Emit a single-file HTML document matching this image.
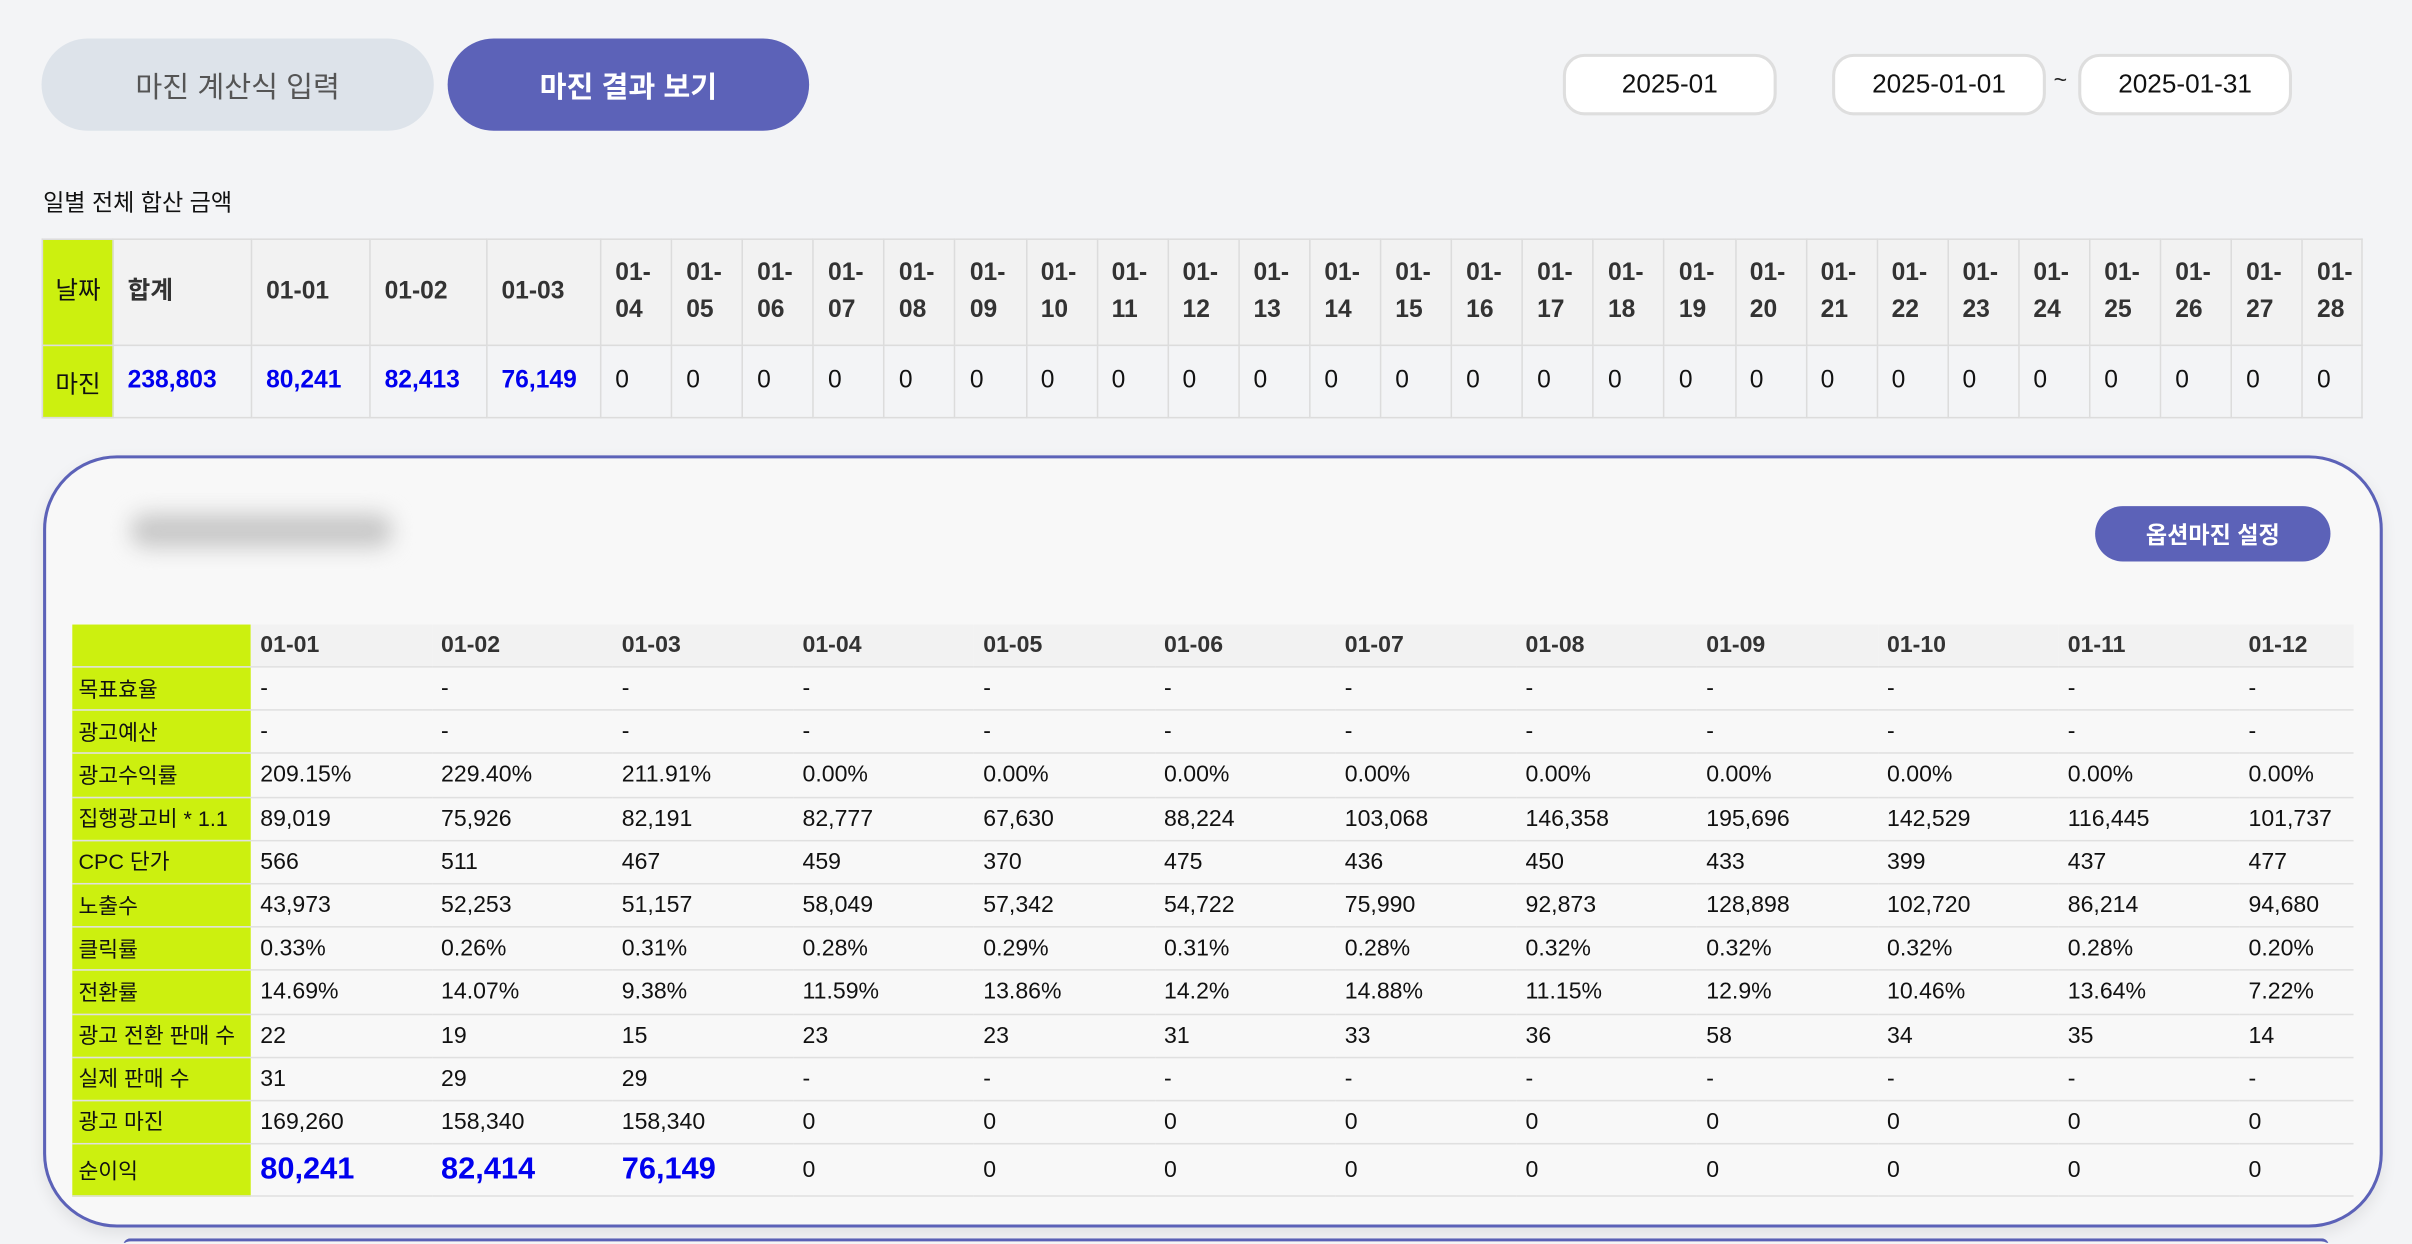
<!DOCTYPE html>
<html><head><meta charset="utf-8">
<style>
html,body{margin:0;padding:0;width:2412px;height:1244px;overflow:hidden;background:#f3f4f6}
#root{position:absolute;left:0;top:0;width:1568px;height:808px;overflow:hidden;transform:scale(1.538265);transform-origin:0 0;font-family:"Liberation Sans","Noto Sans CJK KR",sans-serif;color:#222}
.abs{position:absolute}
.tab{position:absolute;display:flex;align-items:center;justify-content:center;border-radius:30px;font-size:19px}
.date{position:absolute;top:35px;height:36px;width:135px;background:#fff;border:2px solid #dedede;border-radius:14px;display:flex;align-items:center;justify-content:center;font-size:17px;color:#111}
table{border-collapse:collapse;table-layout:fixed;position:absolute}
#sum td{border:1px solid #dcdcdc;font-size:16px;padding:0 0 0 9px;text-align:left}
#sum tr.h td{background:#f2f2f2;font-weight:bold;color:#333;height:68px;line-height:24px}
#sum tr.d td{background:#f3f4f6;height:46px;color:#111}
#sum td.lime{background:#ccf00f!important;padding-left:8px;color:#111!important;font-weight:normal!important}
#sum td.blue{color:#0000ee!important;font-weight:bold}
#card{position:absolute;left:28px;top:296px;width:1517px;height:498px;border:2px solid #5c62b8;border-radius:48px;background:#f8f8f8;box-shadow:0 4px 10px rgba(0,0,0,0.08)}
#det td{font-size:15px;padding:0 0 0 6px;border-bottom:1px solid #e0e0e0;height:27.2px;color:#111}
#det td.lbl{background:#ccf00f;padding-left:4px;font-size:14px}
#det tr.h td{background:#f2f2f2;font-weight:bold;color:#333;height:27px}
#det tr.h td.lbl{background:#ccf00f}
#det tr.last td{height:33px}
#det td.big{color:#0000ee;font-weight:bold;font-size:20px}
</style></head><body>
<div id="root">
<div class="tab" style="left:27px;top:25px;width:255px;height:60px;background:#dde3ea;color:#555">마진 계산식 입력</div>
<div class="tab" style="left:291px;top:25px;width:235px;height:60px;background:#5c62b8;color:#fff;font-weight:bold">마진 결과 보기</div>
<div class="date" style="left:1016px">2025-01</div>
<div class="date" style="left:1191px">2025-01-01</div>
<div class="abs" style="left:1335px;top:44px;font-size:15px">~</div>
<div class="date" style="left:1351px">2025-01-31</div>
<div class="abs" style="left:28px;top:121px;font-size:15px;color:#111">일별 전체 합산 금액</div>

<table id="sum" style="left:27px;top:155px;width:1508px">
<colgroup id="sumcols"></colgroup>
<tr class="h" id="sumh"></tr>
<tr class="d" id="sumd"></tr>
</table>

<div class="abs" style="left:80px;top:805px;width:1434px;height:3px;border-top:2px solid #5c62b8;border-radius:10px 10px 0 0;background:#f8f8f8"></div>
<div id="card">
<div class="abs" style="left:55px;top:36px;width:170px;height:22px;background:#c8c8c8;filter:blur(7px);border-radius:10px"></div>
<div class="abs" style="left:1332px;top:31px;width:153px;height:36px;border-radius:18px;background:#5c62b8;color:#fff;font-weight:bold;font-size:15px;display:flex;align-items:center;justify-content:center">옵션마진 설정</div>
</div>
<table id="det" style="left:47px;top:406px;width:1483px">
<colgroup id="detcols"></colgroup>
</table>
</div>
<script>
const sumDates=["01-01","01-02","01-03","01-04","01-05","01-06","01-07","01-08","01-09","01-10","01-11","01-12","01-13","01-14","01-15","01-16","01-17","01-18","01-19","01-20","01-21","01-22","01-23","01-24","01-25","01-26","01-27","01-28"];
const sumValues=["80,241","82,413","76,149","0","0","0","0","0","0","0","0","0","0","0","0","0","0","0","0","0","0","0","0","0","0","0","0","0"];
const sumTotal="238,803";
const detDates=["01-01","01-02","01-03","01-04","01-05","01-06","01-07","01-08","01-09","01-10","01-11","01-12"];
const rowLabels=["목표효율","광고예산","광고수익률","집행광고비 * 1.1","CPC 단가","노출수","클릭률","전환률","광고 전환 판매 수","실제 판매 수","광고 마진","순이익"];
const rowTarget=["-","-","-","-","-","-","-","-","-","-","-","-"];
const rowBudget=["-","-","-","-","-","-","-","-","-","-","-","-"];
const rowRoas=["209.15%","229.40%","211.91%","0.00%","0.00%","0.00%","0.00%","0.00%","0.00%","0.00%","0.00%","0.00%"];
const rowSpend=["89,019","75,926","82,191","82,777","67,630","88,224","103,068","146,358","195,696","142,529","116,445","101,737"];
const rowCpc=["566","511","467","459","370","475","436","450","433","399","437","477"];
const rowImpr=["43,973","52,253","51,157","58,049","57,342","54,722","75,990","92,873","128,898","102,720","86,214","94,680"];
const rowCtr=["0.33%","0.26%","0.31%","0.28%","0.29%","0.31%","0.28%","0.32%","0.32%","0.32%","0.28%","0.20%"];
const rowCvr=["14.69%","14.07%","9.38%","11.59%","13.86%","14.2%","14.88%","11.15%","12.9%","10.46%","13.64%","7.22%"];
const rowAdSales=["22","19","15","23","23","31","33","36","58","34","35","14"];
const rowRealSales=["31","29","29","-","-","-","-","-","-","-","-","-"];
const rowAdMargin=["169,260","158,340","158,340","0","0","0","0","0","0","0","0","0"];
const rowProfit=["80,241","82,414","76,149","0","0","0","0","0","0","0","0","0"];
const rows=[rowTarget,rowBudget,rowRoas,rowSpend,rowCpc,rowImpr,rowCtr,rowCvr,rowAdSales,rowRealSales,rowAdMargin,rowProfit];

function cell(tr,txt,cls,name){const td=document.createElement('td');td.textContent=txt;if(cls)td.className=cls;


tr.appendChild(td);return td;}
// summary table
const sc=document.getElementById('sumcols');
const sw=[46,90,77,76,74];
const nS=2+sumDates.length;
for(let i=0;i<nS;i++){const c=document.createElement('col');c.style.width=(i<5?sw[i]:(i===nS-1?39:46.1))+'px';sc.appendChild(c);}
const sh=document.getElementById('sumh'),sd=document.getElementById('sumd');
cell(sh,'날짜','lime','date-header');cell(sh,'합계','','total-header');
cell(sd,'마진','lime','margin-label');cell(sd,sumTotal,'blue','margin-total');
sumDates.forEach((d,i)=>{const t=cell(sh,'','', 'date-'+d);t.innerHTML=i<3?d:d.replace('-','-<br>');
const v=sumValues[i];cell(sd,v,v!=='0'?'blue':'','margin-'+d);});
// detail table
const dc=document.getElementById('detcols');
const nD=detDates.length;
for(let i=0;i<=nD;i++){const c=document.createElement('col');c.style.width=(i===0?116:(i===nD?74:117.3))+'px';dc.appendChild(c);}
const det=document.getElementById('det');
const hr=document.createElement('tr');hr.className='h';det.appendChild(hr);
cell(hr,'','lbl','detail-corner');
detDates.forEach(d=>cell(hr,d,'','detail-date-'+d));
rows.forEach((r,ri)=>{const tr=document.createElement('tr');if(ri===rows.length-1)tr.className='last';det.appendChild(tr);
cell(tr,rowLabels[ri],'lbl','row-label-'+ri);
r.forEach((v,ci)=>{const big=ri===rows.length-1&&v!=='0';cell(tr,v,big?'big':'','row-'+ri+'-'+detDates[ci]);});});
</script>
</body></html>
